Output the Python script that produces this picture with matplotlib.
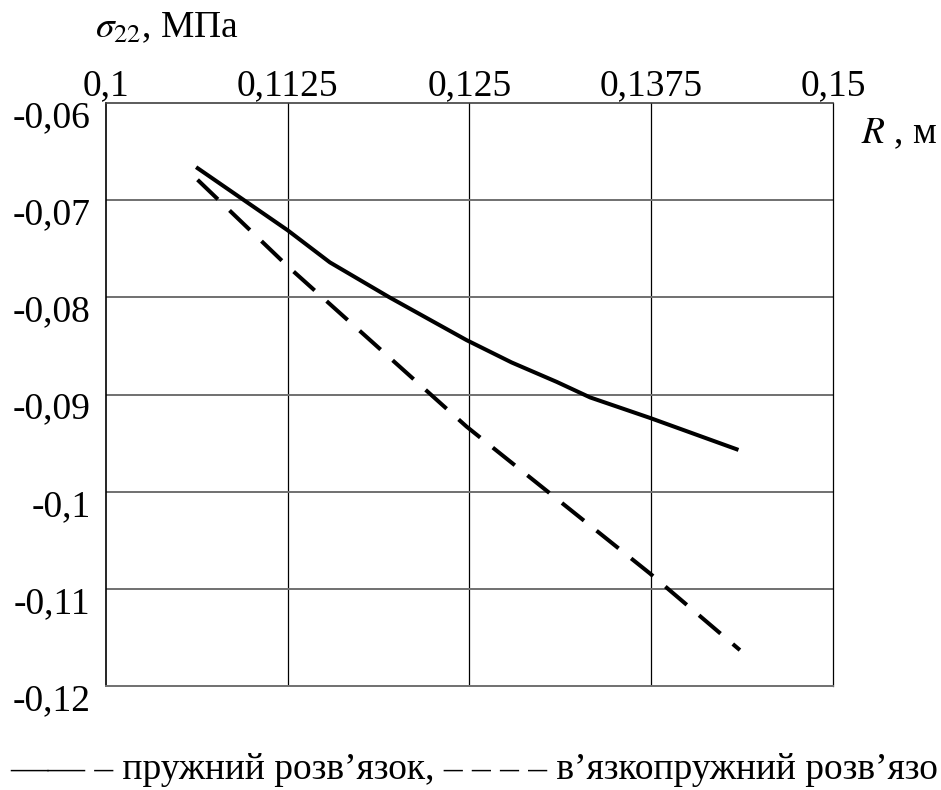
import matplotlib
matplotlib.use("Agg")
import matplotlib.pyplot as plt
from matplotlib.transforms import ScaledTranslation

plt.rcParams['font.family'] = ['Liberation Serif', 'DejaVu Serif']
plt.rcParams['mathtext.fontset'] = 'stix'

# radius, m
r_elastic = [0.1062, 0.1125, 0.1154, 0.1195, 0.1248, 0.1279, 0.1310, 0.1333, 0.1374, 0.1435]
s_elastic = [-0.0666, -0.0731, -0.0764, -0.0800, -0.0844, -0.0867, -0.0887, -0.0903, -0.0924, -0.0957]

r_visco = [0.1063, 0.1125, 0.1248, 0.1374, 0.1436]
s_visco = [-0.0679, -0.0768, -0.0933, -0.1084, -0.1163]

x_ticks = [0.1, 0.1125, 0.125, 0.1375, 0.15]
x_labels = ['0,1', '0,1125', '0,125', '0,1375', '0,15']
y_ticks = [-0.06, -0.07, -0.08, -0.09, -0.1, -0.11, -0.12]
y_labels = ['-0,06', '-0,07', '-0,08', '-0,09', '-0,1', '-0,11', '-0,12']

FS = 27

fig = plt.figure(figsize=(9.41, 7.90), dpi=100)
ax = fig.add_axes([0.1126, 0.1316, 0.7726, 0.7380])

ax.plot(r_elastic, s_elastic, color='black', lw=2.9, solid_capstyle='butt')
ax.plot(r_visco, s_visco, color='black', lw=2.9, dashes=(7, 4), dash_capstyle='butt')

ax.set_xlim(0.1, 0.15)
ax.set_ylim(-0.12, -0.06)
ax.xaxis.tick_top()
ax.set_xticks(x_ticks)
ax.set_xticklabels(x_labels)
ax.set_yticks(y_ticks)
ax.set_yticklabels(y_labels)
ax.tick_params(length=0, labelsize=FS)
ax.tick_params(axis='x', pad=0)
ax.tick_params(axis='y', pad=11)

# y labels sit just under their grid line
shift = ScaledTranslation(0, -24 / 100, fig.dpi_scale_trans)
for lab in ax.get_yticklabels():
    lab.set_verticalalignment('baseline')
    lab.set_transform(lab.get_transform() + shift)

# grid: thin dark verticals, grey horizontals
for xv in x_ticks[1:-1]:
    ax.axvline(xv, color='black', lw=0.9, zorder=0)
for yv in y_ticks[1:-1]:
    ax.axhline(yv, color='#707070', lw=1.4, zorder=0)

ax.spines['left'].set_color('black')
ax.spines['left'].set_linewidth(1.2)
ax.spines['top'].set_color('#404040')
ax.spines['top'].set_linewidth(1.2)
ax.spines['bottom'].set_color('#707070')
ax.spines['bottom'].set_linewidth(1.4)
ax.spines['right'].set_color('black')
ax.spines['right'].set_linewidth(0.9)

fig.text(95 / 941, 1 - 37 / 790, r'$\sigma_{22}$, МПа', fontsize=FS, ha='left', va='baseline')
fig.text(937 / 941, 1 - 143 / 790, r'$R$ , м', fontsize=FS, ha='right', va='baseline')
fig.text(10 / 941, 1 - 779 / 790, '—— – пружний розв’язок, – – – – в’язкопружний розв’язо',
         fontsize=FS, ha='left', va='baseline')

fig.savefig('out.png', dpi=100)
